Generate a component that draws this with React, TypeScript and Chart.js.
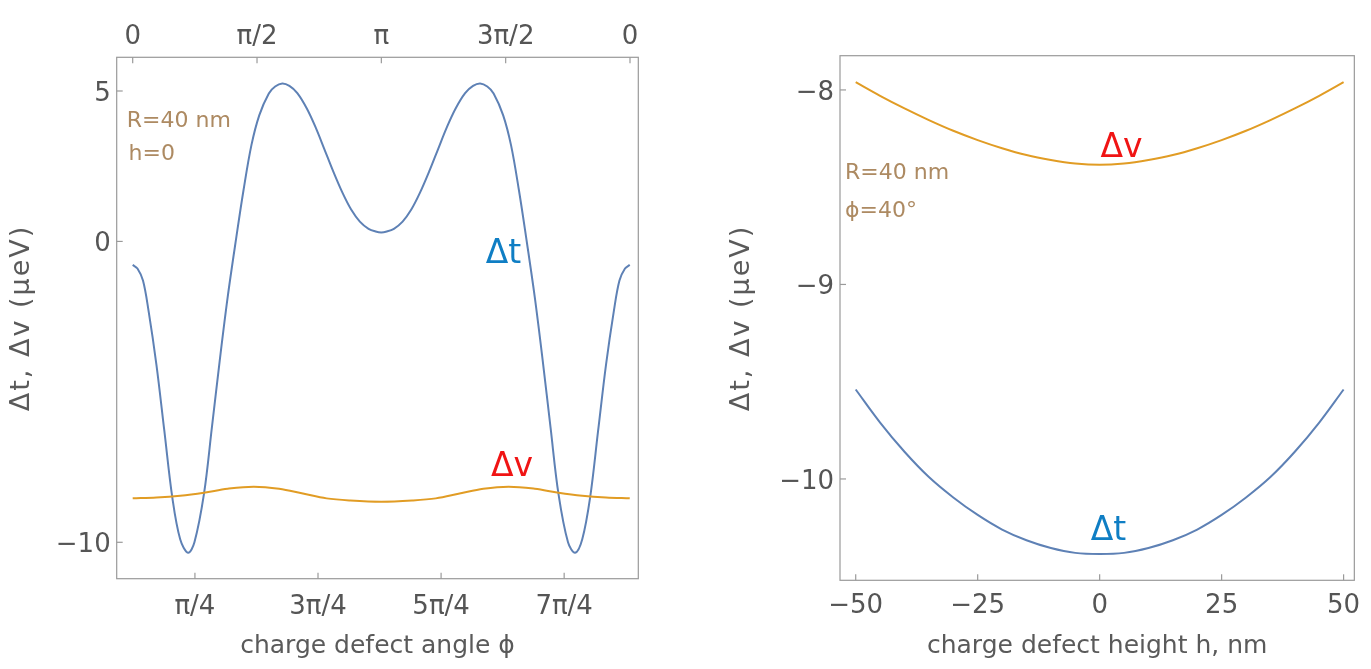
import React, { useEffect, useRef } from 'react';
import { Chart, registerables } from 'chart.js';

Chart.register(...registerables);

// ---------- Left panel: vs charge defect angle phi (radians) ----------
const phiT = [
  0.0, 0.06, 0.13, 0.2, 0.3, 0.4, 0.5, 0.6, 0.7, 0.78, 0.9, 1.0, 1.1, 1.2, 1.31, 1.4, 1.5, 1.6, 1.72, 1.8,
  1.89, 1.98, 2.08, 2.2, 2.31, 2.42, 2.53, 2.65, 2.76, 2.87, 2.98, 3.07, 3.14, 3.21, 3.3, 3.41, 3.52, 3.63,
  3.75, 3.86, 3.97, 4.08, 4.2, 4.3, 4.39, 4.48, 4.56, 4.68, 4.78, 4.88, 4.97, 5.08, 5.18, 5.28, 5.38, 5.5,
  5.59, 5.68, 5.78, 5.88, 5.98, 6.08, 6.15, 6.22, 6.28,
];
const dtPhi = [
  -0.78, -0.9, -1.3, -2.3, -4.1, -6.3, -8.5, -9.9, -10.35, -10.0, -8.4, -6.2, -3.95, -1.85, 0.15, 1.7, 3.2, 4.2,
  4.92, 5.15, 5.25, 5.17, 4.93, 4.42, 3.8, 3.08, 2.35, 1.62, 1.06, 0.66, 0.42, 0.33, 0.3,
  0.33, 0.42, 0.66, 1.06, 1.62, 2.35, 3.08, 3.8, 4.42, 4.93, 5.17, 5.25, 5.15, 4.92, 4.2, 3.2, 1.7, 0.15, -1.85,
  -3.95, -6.2, -8.4, -10.0, -10.35, -9.9, -8.5, -6.3, -4.1, -2.3, -1.3, -0.9, -0.78,
];
const phiV = [0.0, 0.3, 0.6, 0.9, 1.2, 1.53, 1.85, 2.15, 2.45, 2.75, 3.14, 3.53, 3.83, 4.13, 4.43, 4.75, 5.08, 5.38, 5.68, 5.98, 6.28];
const dvPhi = [-8.54, -8.51, -8.45, -8.35, -8.22, -8.15, -8.22, -8.38, -8.54, -8.61, -8.65, -8.61, -8.54, -8.38, -8.22, -8.15, -8.22, -8.35, -8.45, -8.51, -8.54];

const phiBottomTicks = [Math.PI / 4, (3 * Math.PI) / 4, (5 * Math.PI) / 4, (7 * Math.PI) / 4];
const phiBottomLabels = ['π/4', '3π/4', '5π/4', '7π/4'];
const phiTopTicks = [0, Math.PI / 2, Math.PI, (3 * Math.PI) / 2, 2 * Math.PI];
const phiTopLabels = ['0', 'π/2', 'π', '3π/2', '0'];
const leftYTicks = [5, 0, -10];
const leftYLabels = ['5', '0', '−10'];

// ---------- Right panel: vs charge defect height h (nm) ----------
const hVals = [-50, -45, -40, -35, -30, -25, -20, -15, -10, -5, 0, 5, 10, 15, 20, 25, 30, 35, 40, 45, 50];
const dtH = [-9.54, -9.71, -9.86, -9.99, -10.095, -10.185, -10.26, -10.315, -10.355, -10.38, -10.386, -10.38, -10.355, -10.315, -10.26, -10.185, -10.095, -9.99, -9.86, -9.71, -9.54];
const dvH = [-7.96, -8.03, -8.095, -8.155, -8.21, -8.258, -8.3, -8.335, -8.36, -8.378, -8.385, -8.378, -8.36, -8.335, -8.3, -8.258, -8.21, -8.155, -8.095, -8.03, -7.96];

const hTicks = [-50, -25, 0, 25, 50];
const hLabels = ['−50', '−25', '0', '25', '50'];
const rightYTicks = [-8, -9, -10];
const rightYLabels = ['−8', '−9', '−10'];

const yTitle = 'Δt, Δv (μeV)';

// ---------- styles ----------
const FONT = 'DejaVu Sans';
const TICK_COLOR = '#555555';
const TITLE_COLOR = '#5a5a5a';
const FRAME_COLOR = '#9a9a9a';
const T_LINE = '#5e81b5';
const V_LINE = '#e19c24';
const PARAM_COLOR = '#ad8a62';
const T_LABEL = '#0f7ec4';
const V_LABEL = '#f01414';

const leftNotes = [
  { text: 'R=40 nm', x: -0.075, y: 3.81, color: PARAM_COLOR, size: 22 },
  { text: 'h=0', x: -0.052, y: 2.705, color: PARAM_COLOR, size: 22 },
  { text: 'Δt', x: 4.46, y: -0.73, color: T_LABEL, size: 33 },
  { text: 'Δv', x: 4.527, y: -7.8, color: V_LABEL, size: 33 },
];
const rightNotes = [
  { text: 'R=40 nm', x: -52.2, y: -8.458, color: PARAM_COLOR, size: 22 },
  { text: 'ϕ=40°', x: -52.2, y: -8.651, color: PARAM_COLOR, size: 22 },
  { text: 'Δv', x: 0.17, y: -8.344, color: V_LABEL, size: 33 },
  { text: 'Δt', x: -1.84, y: -10.314, color: T_LABEL, size: 33 },
];

const labelFor = (vals: number[], labels: string[]) => (v: number) => {
  const i = vals.findIndex((t) => Math.abs(t - v) < 1e-6);
  return i >= 0 ? labels[i] : '';
};

const fixedAxis = (
  vals: number[],
  labels: string[],
  min: number,
  max: number,
  position: string,
  size: number,
  pad: number,
  title: string | null,
  titlePad: any,
  labelOffset = 0
) => ({
  type: 'linear',
  position,
  axis: position === 'left' ? 'y' : 'x',
  min,
  max,
  grid: { display: false, drawTicks: false, tickLength: 0 },
  border: { display: false },
  afterBuildTicks: (s: any) => {
    s.ticks = vals.map((v) => ({ value: v }));
  },
  afterFit: (s: any) => {
    if (position === 'left') s.width = size;
    else s.height = size;
  },
  ticks: {
    callback: labelFor(vals, labels),
    autoSkip: false,
    maxRotation: 0,
    padding: pad,
    labelOffset,
    color: TICK_COLOR,
    font: { family: FONT, size: 26 },
  },
  title: title
    ? { display: true, text: title, color: TITLE_COLOR, font: { family: FONT, size: 25 }, padding: titlePad }
    : { display: false },
});

const framePlugin = (scaleIds: string[], notes: any[], noteX: string, noteY: string, titleX: number) => ({
  id: 'frameAndNotes',
  afterDraw(chart: any) {
    const { ctx, chartArea: a } = chart;
    ctx.save();
    ctx.strokeStyle = FRAME_COLOR;
    ctx.lineWidth = 1.2;
    ctx.strokeRect(a.left, a.top, a.right - a.left, a.bottom - a.top);
    const L = 6;
    scaleIds.forEach((id) => {
      const s = chart.scales[id];
      s.ticks.forEach((t: any) => {
        const p = s.getPixelForValue(t.value);
        ctx.beginPath();
        if (s.position === 'left') {
          ctx.moveTo(a.left, p);
          ctx.lineTo(a.left + L, p);
        } else if (s.position === 'top') {
          ctx.moveTo(p, a.top);
          ctx.lineTo(p, a.top + L);
        } else {
          ctx.moveTo(p, a.bottom);
          ctx.lineTo(p, a.bottom - L);
        }
        ctx.stroke();
      });
    });
    const sx = chart.scales[noteX];
    const sy = chart.scales[noteY];
    ctx.textAlign = 'left';
    ctx.textBaseline = 'alphabetic';
    notes.forEach((n) => {
      ctx.fillStyle = n.color;
      ctx.font = `${n.size}px "${FONT}"`;
      ctx.fillText(n.text, sx.getPixelForValue(n.x), sy.getPixelForValue(n.y));
    });
    ctx.restore();

    // vertical axis title
    ctx.save();
    ctx.translate(titleX, (a.top + a.bottom) / 2);
    ctx.rotate(-Math.PI / 2);
    ctx.fillStyle = TITLE_COLOR;
    ctx.font = `27px "${FONT}"`;
    ctx.textAlign = 'center';
    ctx.textBaseline = 'middle';
    try {
      (ctx as any).letterSpacing = '2px';
    } catch (e) {}
    ctx.fillText(yTitle, 0, 0);
    ctx.restore();
  },
});

const lineDs = (xs: number[], ys: number[], color: string, xAxisID: string) => ({
  data: xs.map((x, i) => ({ x, y: ys[i] })),
  borderColor: color,
  borderWidth: 2,
  pointRadius: 0,
  fill: false,
  tension: 0.35,
  xAxisID,
  yAxisID: 'y',
});

export default function App() {
  const leftRef = useRef<HTMLCanvasElement>(null);
  const rightRef = useRef<HTMLCanvasElement>(null);

  useEffect(() => {
    const left = new Chart(leftRef.current as HTMLCanvasElement, {
      type: 'line',
      data: {
        datasets: [lineDs(phiV, dvPhi, V_LINE, 'xTop'), lineDs(phiT, dtPhi, T_LINE, 'xTop')] as any,
      },
      options: {
        animation: false,
        responsive: false,
        devicePixelRatio: 1,
        layout: { padding: { left: 0, right: 46.7, top: 0, bottom: 0 } },
        plugins: { legend: { display: false }, tooltip: { enabled: false } },
        scales: {
          x: fixedAxis(phiBottomTicks, phiBottomLabels, -0.213, 6.444, 'bottom', 90.3, 12.7, 'charge defect angle ϕ', { top: 0, bottom: 8 }),
          xTop: fixedAxis(phiTopTicks, phiTopLabels, -0.2021, 6.3881, 'top', 57.3, 4.1, null, 0),
          y: fixedAxis(leftYTicks, leftYLabels, -11.21, 6.12, 'left', 116.7, 6, null, 0, 3),
        } as any,
      },
      plugins: [framePlugin(['x', 'xTop', 'y'], leftNotes, 'xTop', 'y', 22)],
    });

    const right = new Chart(rightRef.current as HTMLCanvasElement, {
      type: 'line',
      data: {
        datasets: [lineDs(hVals, dvH, V_LINE, 'x'), lineDs(hVals, dtH, T_LINE, 'x')] as any,
      },
      options: {
        animation: false,
        responsive: false,
        devicePixelRatio: 1,
        layout: { padding: { left: 0, right: 7.7, top: 55.7, bottom: 0 } },
        plugins: { legend: { display: false }, tooltip: { enabled: false } },
        scales: {
          x: fixedAxis(hTicks, hLabels, -53.22, 52.2, 'bottom', 88.7, 10.7, 'charge defect height h, nm', { top: 0, bottom: 8 }),
          y: fixedAxis(rightYTicks, rightYLabels, -10.521, -7.824, 'left', 155, 6, null, 0, 3),
        } as any,
      },
      plugins: [framePlugin(['x', 'y'], rightNotes, 'x', 'y', 57)],
    });

    return () => {
      left.destroy();
      right.destroy();
    };
  }, []);

  return (
    <div style={{ position: 'absolute', left: 0, top: 0, width: 1371, height: 669, background: '#ffffff' }}>
      <canvas ref={leftRef} width={685} height={669} style={{ position: 'absolute', left: 0, top: 0 }} />
      <canvas ref={rightRef} width={686} height={669} style={{ position: 'absolute', left: 685, top: 0 }} />
    </div>
  );
}
